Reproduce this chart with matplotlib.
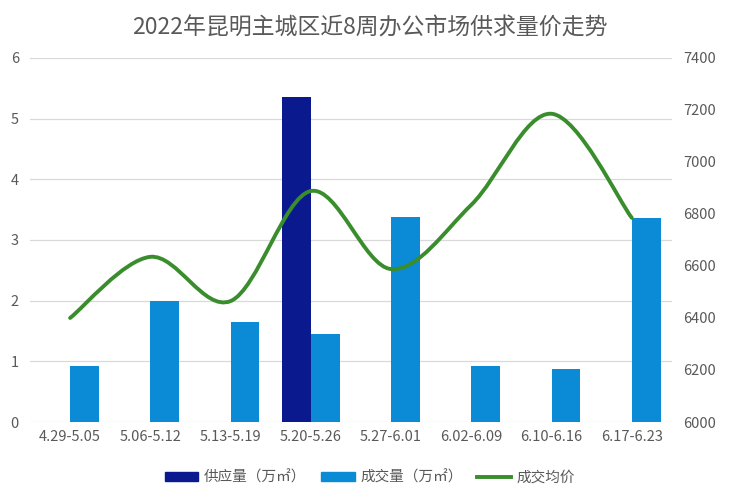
import numpy as np
import matplotlib
matplotlib.use("Agg")
import matplotlib.pyplot as plt
from matplotlib.path import Path
from matplotlib.patches import PathPatch
from matplotlib.lines import Line2D

plt.rcParams['font.family'] = ['Noto Sans CJK SC', 'DejaVu Sans']

weeks = ['4.29-5.05', '5.06-5.12', '5.13-5.19', '5.20-5.26',
         '5.27-6.01', '6.02-6.09', '6.10-6.16', '6.17-6.23']
supply = [0, 0, 0, 5.36, 0, 0, 0, 0]
sales = [0.92, 2.0, 1.65, 1.45, 3.38, 0.93, 0.88, 3.36]
price = [6400, 6635, 6465, 6888, 6588, 6835, 7185, 6785]

c_supply = '#0A1A8E'
c_sales = '#0B8AD5'
c_line = '#3A8D2C'
grey = '#595959'

fig = plt.figure(figsize=(7.4, 5.03), dpi=100)
ax = fig.add_axes([0.0405, 0.161, 0.8675, 0.724])
x = np.arange(len(weeks))
w = 0.36
ax.bar(x - w / 2, supply, w, color=c_supply, zorder=2)
ax.bar(x + w / 2, sales, w, color=c_sales, zorder=2)
ax.set_xlim(-0.5, len(weeks) - 0.5)
ax.set_ylim(0, 6)
ax.set_yticks(range(7))
ax.grid(axis='y', color='#d9d9d9', lw=0.9, zorder=0)
ax.set_xticks(x)
ax.set_xticklabels(weeks)
for s in ax.spines.values():
    s.set_visible(False)
ax.tick_params(length=0, colors=grey, labelsize=10.5, pad=6)
ax.tick_params(axis='y', pad=8)

ax2 = ax.twinx()
ax2.set_ylim(6000, 7400)
ax2.set_yticks(range(6000, 7401, 200))
for s in ax2.spines.values():
    s.set_visible(False)
ax2.tick_params(length=0, colors=grey, labelsize=10.5, pad=8)

# smooth line through the points (bezier segments, like office charts)
pts = np.column_stack([x, price]).astype(float)
n = len(pts)
verts = [pts[0]]
codes = [Path.MOVETO]
for i in range(n - 1):
    p0 = pts[max(i - 1, 0)]
    p1 = pts[i]
    p2 = pts[i + 1]
    p3 = pts[min(i + 2, n - 1)]
    c1 = p1 + (p2 - p0) / 6
    c2 = p2 - (p3 - p1) / 6
    verts += [c1, c2, p2]
    codes += [Path.CURVE4] * 3
ax2.add_patch(PathPatch(Path(verts, codes), fill=False, edgecolor=c_line,
                        lw=2.8, capstyle='round', zorder=3))

fig.text(0.5, 0.945, '2022年昆明主城区近8周办公市场供求量价走势',
         ha='center', va='center', fontsize=16.5, color=grey)

handles = [plt.Rectangle((0, 0), 1, 1, color=c_supply),
           plt.Rectangle((0, 0), 1, 1, color=c_sales),
           Line2D([], [], color=c_line, lw=2.8)]
labels = ['供应量（万㎡）', '成交量（万㎡）', '成交均价']
fig.legend(handles, labels, loc='center', bbox_to_anchor=(0.5, 0.05), ncol=3,
           frameon=False, fontsize=10.5, labelcolor=grey, handlelength=2.3,
           handleheight=0.6, columnspacing=1.0, handletextpad=0.4)

fig.savefig('out.png', dpi=100)
